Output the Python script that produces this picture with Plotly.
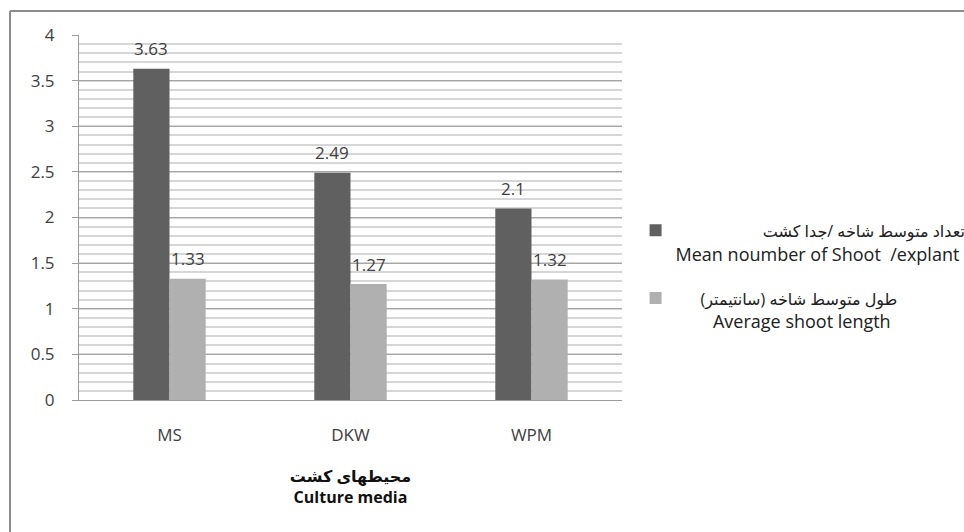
import plotly.graph_objects as go

# Culture media (categories) and the two measured series
media = ["MS", "DKW", "WPM"]
shoot_number = [3.63, 2.49, 2.1]
shoot_length = [1.33, 1.27, 1.32]

fa_names = ["تعداد متوسط شاخه /جدا کشت", "طول متوسط شاخه (سانتیمتر)"]
en_names = ["Mean noumber of Shoot  /explant", "Average shoot length"]
fa_pad = [21, 6]   # leading non-breaking spaces for the Persian line
en_pad = [0, 8]    # leading non-breaking spaces for the English line
series_colors = ["#606060", "#b0b0b0"]

y_tick_values = [0, 0.5, 1, 1.5, 2, 2.5, 3, 3.5, 4]
y_tick_labels = ["0", "0.5", "1", "1.5", "2", "2.5", "3", "3.5", "4"]

axis_title = "<b>محیطهای کشت</b><br><b>Culture media</b>"

W, H = 964, 532
M_L, M_R, M_T, M_B = 79, 342, 35, 132
BARGAP = 0.6
FONT = "Open Sans, DejaVu Sans, sans-serif"
TEXT_COLOR = "#404040"
NBSP = "\u00a0"

fig = go.Figure()
all_series = [shoot_number, shoot_length]
for fa, en, fp, ep, values, color in zip(fa_names, en_names, fa_pad, en_pad,
                                         all_series, series_colors):
    name = (f'<span style="font-size:16px">{NBSP * fp}{fa}</span>'
            f'<br>{NBSP * ep}{en}')
    fig.add_trace(go.Bar(
        x=media, y=values, name=name, marker_color=color,
        marker_line_width=0, legendgroup=en,
    ))

# value labels above each bar, shifted onto their bar inside the group
plot_w = W - M_L - M_R
plot_h = H - M_T - M_B
cat_w = plot_w / len(media)
bar_w = cat_w * (1 - BARGAP) / len(all_series)
annotations = []
for i, values in enumerate(all_series):
    shift = (i - (len(all_series) - 1) / 2) * bar_w
    for cat, v in zip(media, values):
        annotations.append(dict(
            x=cat, y=v, xref="x", yref="y", text=f"{v:g}", showarrow=False,
            xshift=shift, yshift=20, yanchor="middle",
            font=dict(family=FONT, size=17, color=TEXT_COLOR),
        ))

# chart frame: only its top and left edges fall inside the page
frame_x = (10 - M_L) / plot_w
frame_y = 1 + (M_T - 11) / plot_h
frame_line = dict(color="#8c8c8c", width=2)
shapes = [
    dict(type="line", xref="paper", yref="paper", x0=frame_x, x1=2.0,
         y0=frame_y, y1=frame_y, line=frame_line, layer="below"),
    dict(type="line", xref="paper", yref="paper", x0=frame_x, x1=frame_x,
         y0=-1.0, y1=frame_y, line=frame_line, layer="below"),
]

fig.update_layout(
    width=W, height=H,
    margin=dict(l=M_L, r=M_R, t=M_T, b=M_B, pad=0, autoexpand=False),
    paper_bgcolor="white", plot_bgcolor="white",
    barmode="group", bargap=BARGAP, bargroupgap=0,
    font=dict(family=FONT, size=17, color=TEXT_COLOR),
    annotations=annotations,
    shapes=shapes,
    legend=dict(
        x=1.025, y=0.515, xanchor="left", yanchor="top",
        valign="top", traceorder="grouped", tracegroupgap=18,
        font=dict(family=FONT, size=18, color="#202020"),
        bgcolor="rgba(0,0,0,0)",
    ),
)

fig.update_xaxes(
    showline=True, linecolor="#9a9a9a", linewidth=1,
    ticks="", showgrid=False, ticklabelstandoff=20,
    tickfont=dict(family=FONT, size=17, color=TEXT_COLOR),
    title=dict(text=axis_title, standoff=25,
               font=dict(family=FONT, size=16, color="#111111")),
)
fig.update_yaxes(
    range=[0, 4], tickvals=y_tick_values, ticktext=y_tick_labels,
    showline=True, linecolor="#9a9a9a", linewidth=1,
    ticks="outside", ticklen=6, tickcolor="#9a9a9a",
    showgrid=True, gridcolor="#a6a6a6", gridwidth=1,
    minor=dict(dtick=0.1, showgrid=True, gridcolor="#d6d6d6", gridwidth=1.5, ticks=""),
    zeroline=False, ticklabelstandoff=14,
    tickfont=dict(family=FONT, size=17, color=TEXT_COLOR),
)

fig.write_html("out.html")
